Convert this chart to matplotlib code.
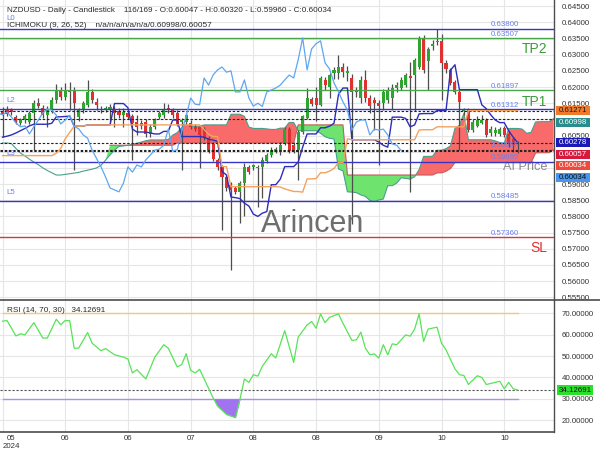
import matplotlib
matplotlib.use('Agg')
import matplotlib.pyplot as plt
import numpy as np
from matplotlib.patches import Rectangle
from matplotlib.lines import Line2D

plt.rcParams['font.family'] = ['Liberation Sans', 'DejaVu Sans']

# ---------------- data ----------------
opens = [0.6125, 0.6130, 0.6130, 0.6107, 0.6090, 0.6098, 0.6092, 0.6119, 0.6150, 0.6135,
         0.6114, 0.6130, 0.6160, 0.6188, 0.6170, 0.6190, 0.6191, 0.6108, 0.6129, 0.6145,
         0.6185, 0.6155, 0.6133, 0.6130, 0.6133, 0.6132, 0.6127, 0.6114, 0.6120, 0.6110,
         0.6092, 0.6088, 0.6092, 0.6055, 0.6077, 0.6107, 0.6113, 0.6135, 0.6129, 0.6120,
         0.6092, 0.6092, 0.6090, 0.6076, 0.6076, 0.6070, 0.6042, 0.6025, 0.5975, 0.5953,
         0.5922, 0.5897, 0.5888, 0.5876, 0.5903, 0.5953, 0.5953, 0.5950, 0.5953, 0.5972,
         0.5990, 0.6000, 0.5998, 0.6025, 0.6070, 0.6022, 0.6006, 0.6062, 0.6104, 0.6162,
         0.6166, 0.6145, 0.6222, 0.6200, 0.6243, 0.6243, 0.6262, 0.6243, 0.6228, 0.6191,
         0.6166, 0.6222, 0.6166, 0.6160, 0.6150, 0.6150, 0.6160, 0.6166, 0.6197, 0.6197,
         0.6206, 0.6234, 0.6237, 0.6262, 0.6352, 0.6281, 0.6327, 0.6340, 0.6343, 0.6275,
         0.6253, 0.6216, 0.6185, 0.6125, 0.6129, 0.6067, 0.6080, 0.6090, 0.6098, 0.6058,
         0.6058, 0.6055, 0.6073, 0.6055, 0.6040, 0.60047]
highs = [0.6138, 0.6140, 0.6136, 0.6115, 0.6105, 0.6118, 0.6125, 0.6160, 0.6165, 0.6145,
         0.6140, 0.6170, 0.6210, 0.6200, 0.6213, 0.6215, 0.6200, 0.6135, 0.6158, 0.6222,
         0.6195, 0.6165, 0.6140, 0.6142, 0.6147, 0.6140, 0.6135, 0.6135, 0.6128, 0.6118,
         0.6113, 0.6098, 0.6100, 0.6085, 0.6105, 0.6125, 0.6150, 0.6147, 0.6135, 0.6128,
         0.6105, 0.6120, 0.6098, 0.6085, 0.6082, 0.6075, 0.6048, 0.6030, 0.5980, 0.5960,
         0.5928, 0.5905, 0.5895, 0.5910, 0.5965, 0.5960, 0.5962, 0.5960, 0.5985, 0.5995,
         0.6015, 0.6015, 0.6030, 0.6078, 0.6078, 0.6030, 0.6068, 0.6115, 0.6197, 0.6170,
         0.6200, 0.6235, 0.6232, 0.6245, 0.6262, 0.6299, 0.6274, 0.6265, 0.6240, 0.6200,
         0.6235, 0.6253, 0.6175, 0.6170, 0.6160, 0.6195, 0.6200, 0.6210, 0.6215, 0.6230,
         0.6245, 0.6277, 0.6290, 0.6358, 0.6360, 0.6325, 0.6345, 0.6378, 0.6365, 0.6285,
         0.6260, 0.6222, 0.6190, 0.6135, 0.6135, 0.6100, 0.6110, 0.6115, 0.6105, 0.6080,
         0.6075, 0.6078, 0.6080, 0.6062, 0.6045, 0.60320]
lows = [0.6045, 0.6110, 0.6115, 0.6085, 0.6082, 0.6090, 0.6085, 0.6005, 0.6135, 0.6105,
        0.6075, 0.6120, 0.6150, 0.6160, 0.6160, 0.6130, 0.5943, 0.6095, 0.6120, 0.6138,
        0.6150, 0.6130, 0.6120, 0.6122, 0.6090, 0.6076, 0.6105, 0.6076, 0.6100, 0.5975,
        0.6052, 0.6070, 0.6045, 0.6045, 0.6070, 0.6100, 0.6105, 0.6120, 0.6105, 0.6080,
        0.5943, 0.6085, 0.6070, 0.6065, 0.5950, 0.6035, 0.5995, 0.5970, 0.5945, 0.5758,
        0.5880, 0.5634, 0.5868, 0.5780, 0.5800, 0.5930, 0.5945, 0.5830, 0.5857, 0.5965,
        0.5985, 0.5995, 0.5990, 0.6020, 0.5995, 0.5995, 0.5913, 0.6055, 0.6100, 0.6140,
        0.6095, 0.6140, 0.6190, 0.6166, 0.6225, 0.6225, 0.6230, 0.6220, 0.5775, 0.6170,
        0.6150, 0.6155, 0.6120, 0.6067, 0.5960, 0.6130, 0.6150, 0.6129, 0.6185, 0.6190,
        0.6200, 0.5876, 0.6125, 0.6255, 0.6245, 0.6191, 0.6315, 0.6330, 0.6160, 0.6245,
        0.6205, 0.6180, 0.6005, 0.6115, 0.6060, 0.6060, 0.6075, 0.6085, 0.6045, 0.6050,
        0.6050, 0.6050, 0.6045, 0.6015, 0.6000, 0.59960]
closes = [0.6118, 0.6118, 0.6124, 0.6092, 0.6098, 0.6110, 0.6119, 0.6150, 0.6141, 0.6114,
          0.6130, 0.6160, 0.6191, 0.6170, 0.6191, 0.6185, 0.6150, 0.6129, 0.6150, 0.6185,
          0.6160, 0.6143, 0.6130, 0.6136, 0.6137, 0.6120, 0.6114, 0.6123, 0.6107, 0.6089,
          0.6077, 0.6080, 0.6055, 0.6077, 0.6098, 0.6120, 0.6132, 0.6129, 0.6113, 0.6086,
          0.6098, 0.6113, 0.6078, 0.6071, 0.6052, 0.6042, 0.6005, 0.5979, 0.5953, 0.5922,
          0.5888, 0.5882, 0.5876, 0.5903, 0.5953, 0.5937, 0.5959, 0.5953, 0.5975, 0.5990,
          0.6005, 0.6008, 0.6020, 0.6070, 0.6002, 0.6006, 0.6062, 0.6110, 0.6166, 0.6147,
          0.6145, 0.6228, 0.6206, 0.6237, 0.6253, 0.6262, 0.6246, 0.6250, 0.6185, 0.6185,
          0.6222, 0.6166, 0.6141, 0.6150, 0.6140, 0.6185, 0.6191, 0.6197, 0.6206, 0.6222,
          0.6237, 0.6228, 0.6284, 0.6352, 0.6253, 0.6318, 0.6334, 0.6343, 0.6275, 0.6256,
          0.6213, 0.6185, 0.6154, 0.6129, 0.6067, 0.6092, 0.6098, 0.6098, 0.6052, 0.6070,
          0.6067, 0.6070, 0.6052, 0.6024, 0.6020, 0.60034]

tenkan = [0.6045, 0.6048, 0.6052, 0.6058, 0.6065, 0.6072, 0.6080, 0.6085, 0.6085, 0.6085,
          0.6085, 0.6088, 0.6108, 0.6108, 0.6109, 0.6110, 0.6079, 0.6079, 0.6079, 0.6083,
          0.6083, 0.6083, 0.6083, 0.6083, 0.6083, 0.6149, 0.6149, 0.6149, 0.6136, 0.6070,
          0.6061, 0.6061, 0.6061, 0.6058, 0.6055, 0.6055, 0.6063, 0.6063, 0.6098, 0.6098,
          0.6047, 0.6047, 0.6047, 0.6047, 0.6047, 0.6045, 0.6039, 0.6036, 0.6032, 0.5939,
          0.5928, 0.5860, 0.5858, 0.5855, 0.5841, 0.5832, 0.5807, 0.5800, 0.5810, 0.5815,
          0.5898, 0.5898, 0.5915, 0.5954, 0.5954, 0.5954, 0.5968, 0.6014, 0.6055, 0.6055,
          0.6055, 0.6074, 0.6074, 0.6079, 0.6088, 0.6177, 0.6197, 0.6197, 0.6037, 0.6037,
          0.6037, 0.6037, 0.6037, 0.6037, 0.6030, 0.6020, 0.6014, 0.6107, 0.6107, 0.6107,
          0.6103, 0.6077, 0.6083, 0.6117, 0.6118, 0.6118, 0.6118, 0.6127, 0.6127, 0.6127,
          0.6252, 0.6269, 0.6192, 0.6192, 0.6192, 0.6192, 0.6192, 0.6145, 0.6133, 0.6114,
          0.6098, 0.6090, 0.6090, 0.6065, 0.6045, 0.6028]
kijun = [0.5988, 0.5988, 0.5988, 0.5988, 0.5988, 0.5988, 0.5988, 0.5988, 0.5988, 0.5988,
         0.5988, 0.5988, 0.5995, 0.6010, 0.6040, 0.6060, 0.6079, 0.6079, 0.6079, 0.6083,
         0.6083, 0.6083, 0.6083, 0.6083, 0.6083, 0.6083, 0.6083, 0.6083, 0.6083, 0.6083,
         0.6083, 0.6083, 0.6083, 0.6083, 0.6083, 0.6083, 0.6083, 0.6083, 0.6083, 0.6083,
         0.6083, 0.6083, 0.6083, 0.6083, 0.6083, 0.6069, 0.6054, 0.6047, 0.6047, 0.5954,
         0.5954, 0.5892, 0.5892, 0.5892, 0.5892, 0.5892, 0.5892, 0.5892, 0.5892, 0.5892,
         0.5892, 0.5892, 0.5891, 0.5885, 0.5881, 0.5877, 0.5877, 0.5875, 0.5916, 0.5916,
         0.5917, 0.5935, 0.5935, 0.5940, 0.5948, 0.5967, 0.5967, 0.6040, 0.6037, 0.6037,
         0.6037, 0.6037, 0.6037, 0.6037, 0.6037, 0.6037, 0.6037, 0.6037, 0.6037, 0.6037,
         0.6037, 0.6037, 0.6037, 0.6067, 0.6068, 0.6068, 0.6068, 0.6077, 0.6077, 0.6077,
         0.6077, 0.6077, 0.6077, 0.6077, 0.6127, 0.6127, 0.6127, 0.6127, 0.6127, 0.6127,
         0.6127, 0.6127, 0.6127, 0.6127, 0.6127, 0.6127]
# leading spans, one value per bar position 0..123 (cloud runs past the last candle)
span_a = [0.6027, 0.6027, 0.6025, 0.6010, 0.5996, 0.5987, 0.5977, 0.5968, 0.5960, 0.5950,
          0.5942, 0.5935, 0.5928, 0.5928, 0.5930, 0.5932, 0.5934, 0.5936, 0.5940, 0.5943,
          0.5946, 0.5950, 0.5958, 0.5974, 0.5990, 0.6005, 0.60165, 0.6018, 0.6020, 0.6023,
          0.60265, 0.6030, 0.6034, 0.60365, 0.60365, 0.60365, 0.60365, 0.6038, 0.60515, 0.6059,
          0.60745, 0.6085, 0.6079, 0.6079, 0.6079, 0.6083, 0.6083, 0.6083, 0.6083, 0.6083,
          0.6083, 0.6116, 0.6116, 0.6116, 0.61095, 0.60765, 0.6072, 0.6072, 0.6072, 0.60705,
          0.6069, 0.6069, 0.6073, 0.6073, 0.60905, 0.60905, 0.6065, 0.6065, 0.6065, 0.6065,
          0.6065, 0.6057, 0.60465, 0.60415, 0.60395, 0.59465, 0.5941, 0.5876, 0.5875, 0.58735,
          0.58665, 0.5862, 0.58495, 0.5846, 0.5851, 0.58535, 0.5895, 0.5895, 0.5903, 0.59195,
          0.59175, 0.59155, 0.59225, 0.59445, 0.59855, 0.59855, 0.5986, 0.60045, 0.60045, 0.60095,
          0.6018, 0.6072, 0.6082, 0.61185, 0.6037, 0.6037, 0.6037, 0.6037, 0.6037, 0.6037,
          0.60335, 0.60285, 0.60255, 0.6072, 0.6072, 0.6072, 0.6070, 0.6057, 0.6060, 0.6092,
          0.6093, 0.6093, 0.6093, 0.6102]
span_b = [np.nan] * 24 + [0.6020] * 15 + [0.6027] * 27 + [0.6083] * 11 + [0.5928] * 20 + \
         [0.59345, 0.59345, 0.59395, 0.5948] + [0.59665] * 18 + [0.5996, 0.5997, 0.5997, 0.5997, 0.6006]

rsi_bar = [0, 1, 3, 4, 5, 7, 9, 10, 12, 13, 14, 15, 16, 17, 19, 20, 22, 23, 25, 27,
           28, 29, 30, 32, 34, 36, 37, 39, 40, 41, 42, 43, 44, 47, 48, 50, 52, 53, 54, 55,
           56, 57, 58, 60, 61, 63, 65, 66, 68, 69, 70, 71, 72, 73, 75, 76, 78, 79, 80, 81,
           82, 83, 84, 85, 86, 87, 88, 90, 91, 92, 93, 94, 95, 97, 98, 99, 101, 102, 103, 104,
           106, 107, 108, 111, 112, 113, 114, 115]
rsi_val = [66.3, 66.6, 59.4, 60.4, 59.9, 65.6, 58.4, 58.4, 67.2, 64.6, 66.6, 66.5, 53.7, 53.7, 61.0, 56.0, 52.5, 53.5, 50.6, 49.5,
           48.6, 42.1, 43.6, 39.3, 49.5, 55.3, 53.7, 44.9, 46.0, 51.1, 43.3, 42.1, 43.8, 30.5, 26.6, 22.7, 21.2, 29.7, 39.3, 37.7,
           41.3, 40.6, 45.2, 51.1, 49.1, 61.9, 47.0, 58.8, 64.6, 66.1, 63.0, 69.7, 65.6, 68.1, 69.7, 65.3, 57.3, 57.6, 61.2, 53.7,
           50.6, 51.0, 49.1, 55.3, 50.6, 55.7, 55.3, 59.9, 59.3, 62.6, 69.7, 56.8, 62.6, 63.5, 56.0, 52.9, 44.0, 41.3, 40.9, 36.7,
           40.8, 40.0, 36.7, 38.2, 34.7, 37.7, 34.7, 34.13]
rsi_last = 34.12691

x_tick_bars = [0, 14, 28, 42, 56, 70, 84, 98, 112]
x_tick_labels = ['05\n2024', '06', '06', '07', '08', '08', '09', '10', '10']
price_ticks = [0.555, 0.560, 0.565, 0.570, 0.575, 0.580, 0.585, 0.590, 0.595, 0.600,
               0.605, 0.610, 0.615, 0.620, 0.625, 0.630, 0.635, 0.640, 0.645]
# ticks whose labels sit under the value boxes on the price scale
covered_ticks = [0.595, 0.600, 0.610]
rsi_ticks = [20, 30, 40, 50, 60, 70]

blue_levels = [0.63800, 0.61312, 0.59695, 0.58485]
blue_names = ['L0', 'L2', 'L3', 'L5']
blue_name_offsets = [5.0, 3.5, 3.5, 3.5]
green_levels = [0.63507, 0.61897]
green_names = ['TP2', 'TP1']
red_levels = [0.57360]
red_names = ['SL']
dashed_levels = [0.61271, 0.60998, 0.60278, 0.60057, 0.60034]
value_labels = [0.63800, 0.63507, 0.61897, 0.61312, 0.60057, 0.59695, 0.58485, 0.57360]
box_values = [0.61271, 0.60998, 0.60278, 0.60057, 0.60034, 0.60034]
box_colors = ['#f07a2c', '#2a8c8c', '#1a1ab4', '#d8193f', '#ef4a3c', '#4596ec']
box_text = ['#1a1a1a', 'white', 'white', 'white', 'white', '#111111']

header1 = 'NZDUSD - Daily - Candlestick    116/169 - O:0.60047 - H:0.60320 - L:0.59960 - C:0.60034'
header2 = 'ICHIMOKU (9, 26, 52)    n/a/n/a/n/a/n/a/0.60998/0.60057'
rsi_title = 'RSI (14, 70, 30)   34.12691'

# ---------------- figure ----------------
W, H = 600, 450
fig = plt.figure(figsize=(6, 4.5), dpi=100)
fig.patch.set_facecolor('white')
AX_R = 553.5
ax = fig.add_axes([0, 1 - 300 / H, AX_R / W, 300 / H])
ax2 = fig.add_axes([0, 1 - 432 / H, AX_R / W, 132 / H], sharex=ax)

o = np.array(opens); h = np.array(highs); l = np.array(lows); c = np.array(closes)
n = len(c)
xb = np.arange(n)
ax.set_xlim(-0.56, 123.0)
ax.set_ylim(0.55415, 0.64692)
ax2.set_ylim(14.5, 76.2)

grid_c = '#e6e6e6'
for gx in x_tick_bars:
    ax.axvline(gx, color=grid_c, lw=0.8, zorder=0)
    ax2.axvline(gx, color=grid_c, lw=0.8, zorder=0)
for v in price_ticks:
    ax.axhline(v, color=grid_c, lw=0.8, zorder=0)
for v in rsi_ticks:
    ax2.axhline(v, color=grid_c, lw=0.8, zorder=0)

# cloud
sa = np.array(span_a, dtype=float)
sb = np.array(span_b, dtype=float)
kx = np.arange(len(sa))
valid = np.isfinite(sb)
sbf = np.where(valid, sb, sa)
ax.fill_between(kx, sa, sbf, where=valid & (sa >= sbf), interpolate=True,
                color='#f96b6b', lw=0, zorder=1)
ax.fill_between(kx, sa, sbf, where=valid & (sbf >= sa), interpolate=True,
                color='#6ee36e', lw=0, zorder=1)
ax.plot(kx, sa, color='#4a9f8c', lw=0.8, zorder=1.5)
ax.plot(kx, sb, color='#c85a5a', lw=0.8, zorder=1.5)

# candles
up = c >= o
ax.vlines(xb, l, h, color='#4d4d4d', lw=0.9, zorder=2.5)
body_lo = np.minimum(o, c)
body_h = np.maximum(np.abs(c - o), 0.00015)
ax.bar(xb[up], body_h[up], bottom=body_lo[up], width=0.68, color='#2ea52e', zorder=3, lw=0)
ax.bar(xb[~up], body_h[~up], bottom=body_lo[~up], width=0.68, color='#e0302f', zorder=3, lw=0)

# ichimoku lines
ax.plot(xb, tenkan, color='#2d2db8', lw=1.0, zorder=4)
ax.plot(xb, kijun, color='#f4a25e', lw=1.0, zorder=4)
ax.plot(xb - 26, c, color='#5ea6f2', lw=0.9, zorder=4)

# levels
for v in blue_levels:
    ax.axhline(v, color='#3535c8', lw=1.0, zorder=3.5)
for v in green_levels:
    ax.axhline(v, color='#4aa64a', lw=1.0, zorder=3.5)
for v in red_levels:
    ax.axhline(v, color='#d23a3a', lw=1.0, zorder=3.5)
for v in dashed_levels:
    ax.axhline(v, color='#222222', lw=0.8, ls=(0, (2.2, 1.6)), zorder=3.6)

lab_c = '#6a80e8'
for v in value_labels:
    ax.annotate(f'{v:.5f}', xy=(115.3, v), xytext=(0, 0.4), textcoords='offset points',
                ha='right', va='bottom', fontsize=5.7, color=lab_c, zorder=6)
for v, s, off in zip(blue_levels, blue_names, blue_name_offsets):
    ax.annotate(s, xy=(0.8, v), xytext=(0, off), textcoords='offset points',
                ha='left', va='bottom', fontsize=5.7, color=lab_c, zorder=6)
for v, s in zip(green_levels, green_names):
    ax.annotate(s, xy=(121.6, v), xytext=(0, -3.0), textcoords='offset points',
                ha='right', va='top', fontsize=10, color='#3c9c3c', zorder=6)
for v, s in zip(red_levels, red_names):
    ax.annotate(s, xy=(121.6, v), xytext=(0, -3.0), textcoords='offset points',
                ha='right', va='top', fontsize=10, color='#e02c2c', zorder=6)

ax.text(0.5655, 0.2533, 'Arincen', transform=ax.transAxes, fontsize=22, color='#6e6e6e',
        ha='center', va='center', zorder=5)
ax.text(0.9485, 0.4433, 'AI Price', transform=ax.transAxes, fontsize=9.2, color='#8c8c8c',
        ha='center', va='center', zorder=2)

# RSI panel
rb = np.array(rsi_bar, dtype=float)
rv = np.array(rsi_val)
ax2.plot([0, n - 1], [70, 70], color='#f5c67c', lw=1.0, zorder=2)
ax2.plot([0, n - 1], [30, 30], color='#b38af0', lw=1.0, zorder=2)
ax2.axhline(rsi_last, color='#555555', lw=0.8, ls=(0, (2, 1.6)), zorder=2)
ax2.fill_between(rb, rv, 30, where=rv <= 30, interpolate=True, color='#a074f0', lw=0, zorder=2.5)
ax2.plot(rb, rv, color='#58e358', lw=0.9, zorder=3)

# axes styling
for a in (ax, ax2):
    a.set_facecolor('none')
    a.spines['left'].set_visible(False)
    a.spines['top'].set_visible(False)
    a.spines['right'].set_color('#4d4d4d')
    a.spines['right'].set_linewidth(1.0)
    a.yaxis.tick_right()
ax.spines['bottom'].set_visible(False)
ax2.spines['bottom'].set_color('#4d4d4d')
ax2.spines['bottom'].set_linewidth(1.2)

ax.set_yticks(price_ticks)
ax.set_yticklabels(['' if any(abs(v - cv) < 1e-9 for cv in covered_ticks) else f'{v:.5f}'
                    for v in price_ticks])
ax.tick_params(axis='y', length=0, pad=6, labelsize=5.7, labelcolor='#333333')
ax.tick_params(axis='x', length=0, labelbottom=False)
ax2.set_yticks(rsi_ticks)
ax2.set_yticklabels([f'{v:.5f}' for v in rsi_ticks])
ax2.tick_params(axis='y', length=0, pad=6, labelsize=5.7, labelcolor='#333333')
ax2.set_xticks(x_tick_bars)
ax2.set_xticklabels(x_tick_labels)
ax2.tick_params(axis='x', length=0, pad=2, labelsize=5.7, labelcolor='#333333')
first = ax2.get_xticklabels()[0]
first.set_horizontalalignment('left')
first.set_multialignment('center')

fig.add_artist(Line2D([0, 1], [1 - 300 / H] * 2, transform=fig.transFigure,
                      color='#4d4d4d', lw=1.2))

# headers
fig.text(7 / W, 1 - 10 / H, header1, fontsize=5.9, color='#2a2a2a', ha='left', va='center')
fig.text(7 / W, 1 - 25.5 / H, header2, fontsize=5.9, color='#2a2a2a', ha='left', va='center')
fig.text(7 / W, 1 - 311 / H, rsi_title, fontsize=5.9, color='#2a2a2a', ha='left', va='center')

# value boxes on the price scale
prev = -100
for v, bc, tc in zip(box_values, box_colors, box_text):
    ypx = H - ax.transData.transform((0, v))[1]
    ypx = max(ypx, prev + 11.5)
    prev = ypx
    fig.add_artist(Rectangle((556 / W, 1 - (ypx + 4.6) / H), 34 / W, 9.2 / H,
                             transform=fig.transFigure, color=bc, lw=0))
    fig.text(573 / W, 1 - ypx / H, f'{v:.5f}', fontsize=5.7, color=tc, ha='center', va='center')

ypx = H - ax2.transData.transform((0, rsi_last))[1]
fig.add_artist(Rectangle((557 / W, 1 - (ypx + 4.6) / H), 36 / W, 9.2 / H,
                         transform=fig.transFigure, color='#2be02b', lw=0))
fig.text(575 / W, 1 - ypx / H, f'{rsi_last:.5f}', fontsize=5.7, color='#111111', ha='center', va='center')

fig.savefig('out.png', dpi=100)
